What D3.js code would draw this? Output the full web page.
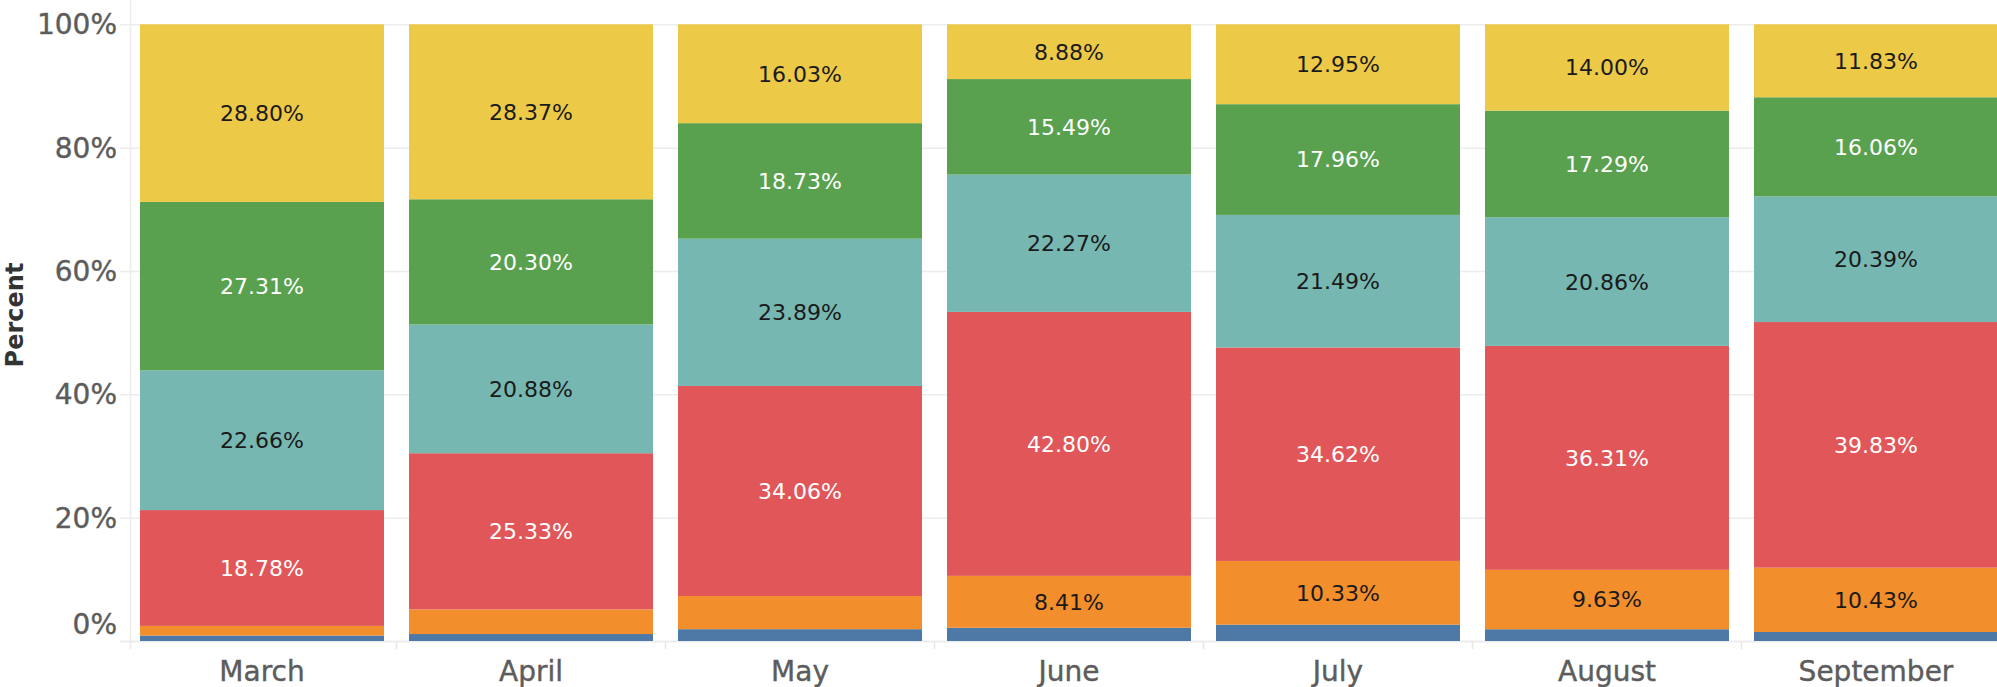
<!DOCTYPE html>
<html>
<head>
<meta charset="utf-8">
<script src="https://cdn.jsdelivr.net/npm/d3@7"></script>
<style>
  html, body { margin: 0; padding: 0; background: #fff; overflow: hidden; }
  svg { display: block; font-family: "DejaVu Sans", sans-serif; }
</style>
</head>
<body>
<svg id="chart" width="1997" height="687"></svg>
<script>
// ---- data ----
const months = ["March", "April", "May", "June", "July", "August", "September"];
const seriesNames = ["blue", "orange", "red", "teal", "green", "yellow"];
const blueVals   = [0.89, 1.13, 1.92, 2.15, 2.65, 1.91, 1.46];
const orangeVals = [1.56, 3.99, 5.37, 8.41, 10.33, 9.63, 10.43];
const redVals    = [18.78, 25.33, 34.06, 42.80, 34.62, 36.31, 39.83];
const tealVals   = [22.66, 20.88, 23.89, 22.27, 21.49, 20.86, 20.39];
const greenVals  = [27.31, 20.30, 18.73, 15.49, 17.96, 17.29, 16.06];
const yellowVals = [28.80, 28.37, 16.03, 8.88, 12.95, 14.00, 11.83];
const yTicks = [0, 20, 40, 60, 80, 100];

const seriesColors = {
  blue: "#4e79a7", orange: "#f28e2b", red: "#e15759",
  teal: "#76b7b2", green: "#59a14f", yellow: "#edc948"
};
const labelColors = {
  blue: "#1a1a1a", orange: "#1a1a1a", red: "#ffffff",
  teal: "#1a1a1a", green: "#ffffff", yellow: "#1a1a1a"
};

const valuesBySeries = {
  blue: blueVals, orange: orangeVals, red: redVals,
  teal: tealVals, green: greenVals, yellow: yellowVals
};
const table = months.map((m, i) => {
  const row = { month: m };
  seriesNames.forEach(s => row[s] = valuesBySeries[s][i]);
  return row;
});

const svg = d3.select("#chart");
const W = 1997;

const x = d3.scaleBand().domain(months).range([115, 2023])
  .paddingInner(0.093).paddingOuter(0.093);
const y = d3.scaleLinear().domain([0, 100]).range([641, 24.3]);

// vertical left axis line
svg.append("line")
  .attr("x1", 130.5).attr("x2", 130.5)
  .attr("y1", 0).attr("y2", 649)
  .attr("stroke", "#ececec").attr("stroke-width", 1.5);

// y axis with gridlines
const yAxis = svg.append("g")
  .attr("transform", "translate(120,0)")
  .call(d3.axisLeft(y).tickValues(yTicks).tickFormat(d => d + "%")
    .tickSize(-(W - 120)).tickPadding(3));
yAxis.select(".domain").remove();
yAxis.selectAll(".tick line").attr("stroke", "#ececec").attr("stroke-width", 1.5);
yAxis.selectAll(".tick text")
  .attr("fill", "#5c5c5c").attr("stroke", "#5c5c5c").attr("stroke-width", 0.4)
  .style("font-size", "28px")
  .style("font-family", "DejaVu Sans, sans-serif")
  .attr("dy", d => d === 0 ? "-0.28em" : "0.34em");

// bottom axis line
svg.append("line")
  .attr("x1", 120).attr("x2", W)
  .attr("y1", 641.5).attr("y2", 641.5)
  .attr("stroke", "#ececec").attr("stroke-width", 1.5);

// category separators
const sepPositions = months.slice(1).map(m => x(m) - x.step() * x.paddingInner() / 2);
svg.append("g").selectAll("line").data(sepPositions).join("line")
  .attr("x1", d => d).attr("x2", d => d)
  .attr("y1", 641).attr("y2", 649)
  .attr("stroke", "#e6e6e6").attr("stroke-width", 1.5);

// stacked bars
const stack = d3.stack().keys(seriesNames);
const stacked = stack(table);

const layers = svg.append("g").selectAll("g").data(stacked).join("g")
  .attr("fill", d => seriesColors[d.key]);

layers.selectAll("rect").data(d => d).join("rect")
  .attr("x", d => x(d.data.month))
  .attr("width", x.bandwidth())
  .attr("y", d => y(d[1]))
  .attr("height", d => y(d[0]) - y(d[1]));

// value labels
const labelG = svg.append("g");
stacked.forEach(layer => {
  layer.forEach(d => {
    const v = d.data[layer.key];
    if (v < 8) return;
    labelG.append("text")
      .attr("x", x(d.data.month) + x.bandwidth() / 2)
      .attr("y", y((d[0] + d[1]) / 2))
      .attr("dy", "0.36em")
      .attr("text-anchor", "middle")
      .attr("fill", labelColors[layer.key])
      .style("font-size", "22px")
      .text(v.toFixed(2) + "%");
  });
});

// x axis labels
const xAxis = svg.append("g")
  .attr("transform", "translate(0,641)")
  .call(d3.axisBottom(x).tickSize(0));
xAxis.select(".domain").remove();
xAxis.selectAll(".tick text")
  .attr("y", 40).attr("dy", 0)
  .attr("fill", "#5c5c5c").attr("stroke", "#5c5c5c").attr("stroke-width", 0.4)
  .style("font-size", "28px")
  .style("font-family", "DejaVu Sans, sans-serif");

// y axis title
svg.append("text")
  .attr("transform", "translate(23,315) rotate(-90)")
  .attr("text-anchor", "middle")
  .attr("fill", "#333")
  .style("font-size", "24px").style("font-weight", "bold")
  .text("Percent");
</script>
</body>
</html>
